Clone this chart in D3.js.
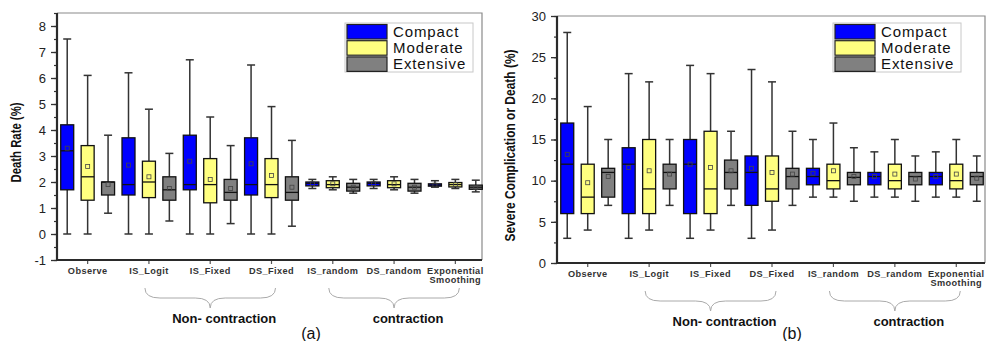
<!DOCTYPE html>
<html>
<head>
<meta charset="utf-8">
<script src="https://cdn.jsdelivr.net/npm/d3@7"></script>
<style>
  body { margin: 0; background: #fff; }
  svg { display: block; font-family: "Liberation Sans", Arial, sans-serif; }
</style>
</head>
<body>
<div id="chart"></div>
<script>
// categories and series
const categories = ['Observe', 'IS_Logit', 'IS_Fixed', 'DS_Fixed', 'IS_random', 'DS_random', 'Exponential Smoothing'];
const series = ['Compact', 'Moderate', 'Extensive'];
const colors = ['#0000ff', '#ffff80', '#808080'];
const groups = [
  {name: 'Non- contraction', from: 'IS_Logit', to: 'DS_Fixed'},
  {name: 'contraction', from: 'IS_random', to: 'Exponential Smoothing'}
];

// each entry: [min, q1, median, q3, max, mean]
// (a) Death Rate (%)
const deathCompact = [
  [0, 1.7, 3.2, 4.2, 7.5, 3.3], [0, 1.5, 1.9, 3.7, 6.2, 2.65], [0, 1.7, 1.9, 3.8, 6.7, 2.8],
  [0, 1.5, 1.9, 3.7, 6.5, 2.7], [1.75, 1.85, 1.95, 2.0, 2.1, 1.93], [1.75, 1.85, 1.95, 2.0, 2.1, 1.93],
  [1.8, 1.84, 1.88, 1.93, 2.05, 1.88]
];
const deathModerate = [
  [0, 1.3, 2.2, 3.4, 6.1, 2.6], [0, 1.4, 2.0, 2.8, 4.8, 2.2], [0, 1.2, 1.9, 2.9, 4.5, 2.1],
  [0, 1.4, 1.9, 2.9, 4.9, 2.25], [1.7, 1.78, 1.9, 2.05, 2.2, 1.93], [1.7, 1.78, 1.9, 2.05, 2.2, 1.93],
  [1.75, 1.81, 1.9, 1.98, 2.1, 1.9]
];
const deathExtensive = [
  [0.8, 1.5, 2.0, 2.0, 3.8, 1.9], [0.5, 1.3, 1.7, 2.2, 3.1, 1.75], [0.4, 1.3, 1.6, 2.1, 3.4, 1.75],
  [0.3, 1.3, 1.6, 2.2, 3.6, 1.8], [1.57, 1.65, 1.8, 1.95, 2.1, 1.8], [1.57, 1.65, 1.8, 1.95, 2.1, 1.8],
  [1.62, 1.72, 1.8, 1.88, 2.07, 1.78]
];
// (b) Severe Complication or Death (%)
const severeCompact = [
  [3, 6, 12, 17, 28, 13.2], [3, 6, 12, 14, 23, 11.6], [3, 6, 12, 15, 24, 12],
  [3, 7, 11, 13, 23.5, 11.5], [8, 9.5, 10.5, 11.5, 15, 10.9], [8, 9.5, 10.5, 11, 13.5, 10.5],
  [8, 9.5, 10.5, 11, 13.5, 10.5]
];
const severeModerate = [
  [4, 6, 8, 12, 19, 9.75], [4, 6, 9, 15, 22, 11.2], [4, 6, 9, 16, 23, 11.6],
  [4, 7.5, 9, 13, 22, 11], [8, 9, 10, 12, 17, 11.2], [8, 9, 10, 12, 15, 10.8],
  [8, 9, 10, 12, 15, 10.8]
];
const severeExtensive = [
  [7, 8, 11, 11.5, 15, 10.5], [7, 9, 11, 12, 15, 10.8], [7, 9, 11, 12.5, 16, 11.2],
  [7, 9, 10.5, 11.5, 16, 10.8], [7.5, 9.5, 10.4, 11, 14, 10.5], [7.5, 9.5, 10.5, 11, 13, 10.2],
  [7.5, 9.5, 10.5, 11, 13, 10.3]
];

const panels = [
  {tag: '(a)', ylabel: 'Death Rate (%)', data: [deathCompact, deathModerate, deathExtensive],
   yDomain: [-1, 8.5], majorStep: 1, minorStep: 0.5,
   left: 57, right: 482, bandRight: 486, top: 13, bottom: 260,
   ylabelX: 21, ylabelLen: 80, legendX: 345, legendY: 23, tagX: 311},
  {tag: '(b)', ylabel: 'Severe Complication or Death (%)', data: [severeCompact, severeModerate, severeExtensive],
   yDomain: [0, 30], majorStep: 5, minorStep: 2.5,
   left: 557, right: 985, bandRight: 987, top: 16, bottom: 263,
   ylabelX: 515, ylabelLen: 192, legendX: 833, legendY: 23, tagX: 792}
];

const svg = d3.select('#chart').append('svg')
  .attr('width', 986)
  .attr('height', 341);

panels.forEach(p => drawPanel(p));

function drawPanel(p) {
  const g = svg.append('g');
  const y = d3.scaleLinear().domain(p.yDomain).range([p.bottom, p.top]);
  const x = d3.scaleBand().domain(categories).range([p.left, p.bandRight]);
  const slot = x.bandwidth() / 3;
  const boxW = 13;
  const cx = (ci, si) => x(categories[ci]) + slot * (si + 0.5);

  // frame (top and right)
  g.append('path')
    .attr('d', `M${p.left},${p.top}H${p.right}V${p.bottom}`)
    .attr('fill', 'none').attr('stroke', '#8a8a8a').attr('stroke-width', 1.2);

  // minor y ticks
  const minors = d3.range(p.yDomain[0], p.yDomain[1] + 0.001, p.minorStep);
  g.append('g')
    .attr('transform', `translate(${p.left},0)`)
    .call(d3.axisLeft(y).tickValues(minors).tickSize(3).tickFormat(''))
    .call(a => a.select('.domain').remove())
    .selectAll('line').attr('stroke', '#333').attr('stroke-width', 1.2);

  // major y ticks
  const majors = d3.range(Math.ceil(p.yDomain[0]), p.yDomain[1] + 0.001, p.majorStep);
  const yAxis = g.append('g')
    .attr('transform', `translate(${p.left},0)`)
    .call(d3.axisLeft(y).tickValues(majors).tickSize(6).tickPadding(5).tickFormat(d => String(d)));
  yAxis.select('.domain').remove();
  yAxis.selectAll('line').attr('stroke', '#333').attr('stroke-width', 1.3);
  yAxis.selectAll('text').attr('font-size', 13).attr('fill', '#222')
    .attr('font-family', '"Liberation Sans", Arial, sans-serif');

  // x ticks
  const xAxis = g.append('g')
    .attr('transform', `translate(0,${p.bottom})`)
    .call(d3.axisBottom(x).tickSize(4).tickFormat(''));
  xAxis.select('.domain').remove();
  xAxis.selectAll('line').attr('stroke', '#555').attr('stroke-width', 1.2);

  // axis lines
  g.append('path')
    .attr('d', `M${p.left},${p.top}V${p.bottom}H${p.right}`)
    .attr('fill', 'none').attr('stroke', '#2a2a2a').attr('stroke-width', 2.2);

  // category labels
  categories.forEach(c => {
    const words = c === 'Exponential Smoothing' ? ['Exponential', 'Smoothing'] : [c];
    const t = g.append('text')
      .attr('x', x(c) + x.bandwidth() / 2)
      .attr('y', p.bottom + 14)
      .attr('text-anchor', 'middle')
      .attr('font-size', 9.2).attr('font-weight', 'bold').attr('fill', '#333')
      .attr('letter-spacing', 0.4);
    words.forEach((w, i) => t.append('tspan')
      .attr('x', x(c) + x.bandwidth() / 2).attr('dy', i ? 9 : 0).text(w));
  });

  // boxes
  series.forEach((s, si) => {
    p.data[si].forEach((d, ci) => {
      const [mn, q1, med, q3, mx, mean] = d;
      const xc = cx(ci, si);
      const bg = g.append('g');
      bg.append('line').attr('x1', xc).attr('x2', xc).attr('y1', y(mx)).attr('y2', y(q3))
        .attr('stroke', '#333').attr('stroke-width', 1.5);
      bg.append('line').attr('x1', xc).attr('x2', xc).attr('y1', y(q1)).attr('y2', y(mn))
        .attr('stroke', '#333').attr('stroke-width', 1.5);
      [mx, mn].forEach(v => bg.append('line')
        .attr('x1', xc - 4).attr('x2', xc + 4).attr('y1', y(v)).attr('y2', y(v))
        .attr('stroke', '#333').attr('stroke-width', 1.5));
      bg.append('rect')
        .attr('x', xc - boxW / 2).attr('y', y(q3))
        .attr('width', boxW).attr('height', Math.max(1, y(q1) - y(q3)))
        .attr('fill', colors[si]).attr('stroke', '#111').attr('stroke-width', 1.3);
      bg.append('line').attr('x1', xc - boxW / 2).attr('x2', xc + boxW / 2)
        .attr('y1', y(med)).attr('y2', y(med))
        .attr('stroke', '#111').attr('stroke-width', 1.3);
      bg.append('rect')
        .attr('x', xc - 2).attr('y', y(mean) - 2).attr('width', 4).attr('height', 4)
        .attr('fill', 'none').attr('stroke', '#444').attr('stroke-width', 0.8);
    });
  });

  // y label
  g.append('text')
    .attr('transform', `translate(${p.ylabelX},${(p.top + p.bottom) / 2 + 6}) rotate(-90)`)
    .attr('text-anchor', 'middle')
    .attr('font-size', 14).attr('font-weight', 'bold').attr('fill', '#111')
    .attr('textLength', p.ylabelLen).attr('lengthAdjust', 'spacingAndGlyphs')
    .text(p.ylabel);

  // legend
  const lg = g.append('g').attr('transform', `translate(${p.legendX},${p.legendY})`);
  lg.append('rect').attr('width', 128).attr('height', 49)
    .attr('fill', '#fff').attr('stroke', '#c8c8c8').attr('stroke-width', 1);
  series.forEach((s, si) => {
    lg.append('rect').attr('x', 2).attr('y', 1.5 + si * 16.2)
      .attr('width', 40).attr('height', 14.5)
      .attr('fill', colors[si]).attr('stroke', '#222').attr('stroke-width', 1.2);
    lg.append('text').attr('x', 48).attr('y', 13.5 + si * 16.2)
      .attr('font-size', 15).attr('letter-spacing', 0.9).attr('fill', '#111').text(s);
  });

  // group braces
  groups.forEach(gr => {
    const x1 = x(gr.from) + x.bandwidth() / 2 - 4;
    const x2 = x(gr.to) + x.bandwidth() / 2 + 4;
    const xm = (x1 + x2) / 2;
    const top = p.bottom + 28, h = 20, rx = 15;
    const path = d3.path();
    path.moveTo(x1, top);
    path.quadraticCurveTo(x1, top + h / 2, x1 + rx, top + h / 2);
    path.lineTo(xm - rx, top + h / 2);
    path.quadraticCurveTo(xm, top + h / 2, xm, top + h);
    path.quadraticCurveTo(xm, top + h / 2, xm + rx, top + h / 2);
    path.lineTo(x2 - rx, top + h / 2);
    path.quadraticCurveTo(x2, top + h / 2, x2, top);
    g.append('path').attr('d', path.toString())
      .attr('fill', 'none').attr('stroke', '#aaa').attr('stroke-width', 1);
    g.append('text')
      .attr('x', xm + 14).attr('y', p.bottom + 63)
      .attr('text-anchor', 'middle')
      .attr('font-size', 13).attr('font-weight', 'bold').attr('fill', '#111')
      .text(gr.name);
  });

  // panel tag
  g.append('text')
    .attr('x', p.tagX).attr('y', 339)
    .attr('text-anchor', 'middle')
    .attr('font-size', 16).attr('fill', '#111')
    .text(p.tag);
}
</script>
</body>
</html>
